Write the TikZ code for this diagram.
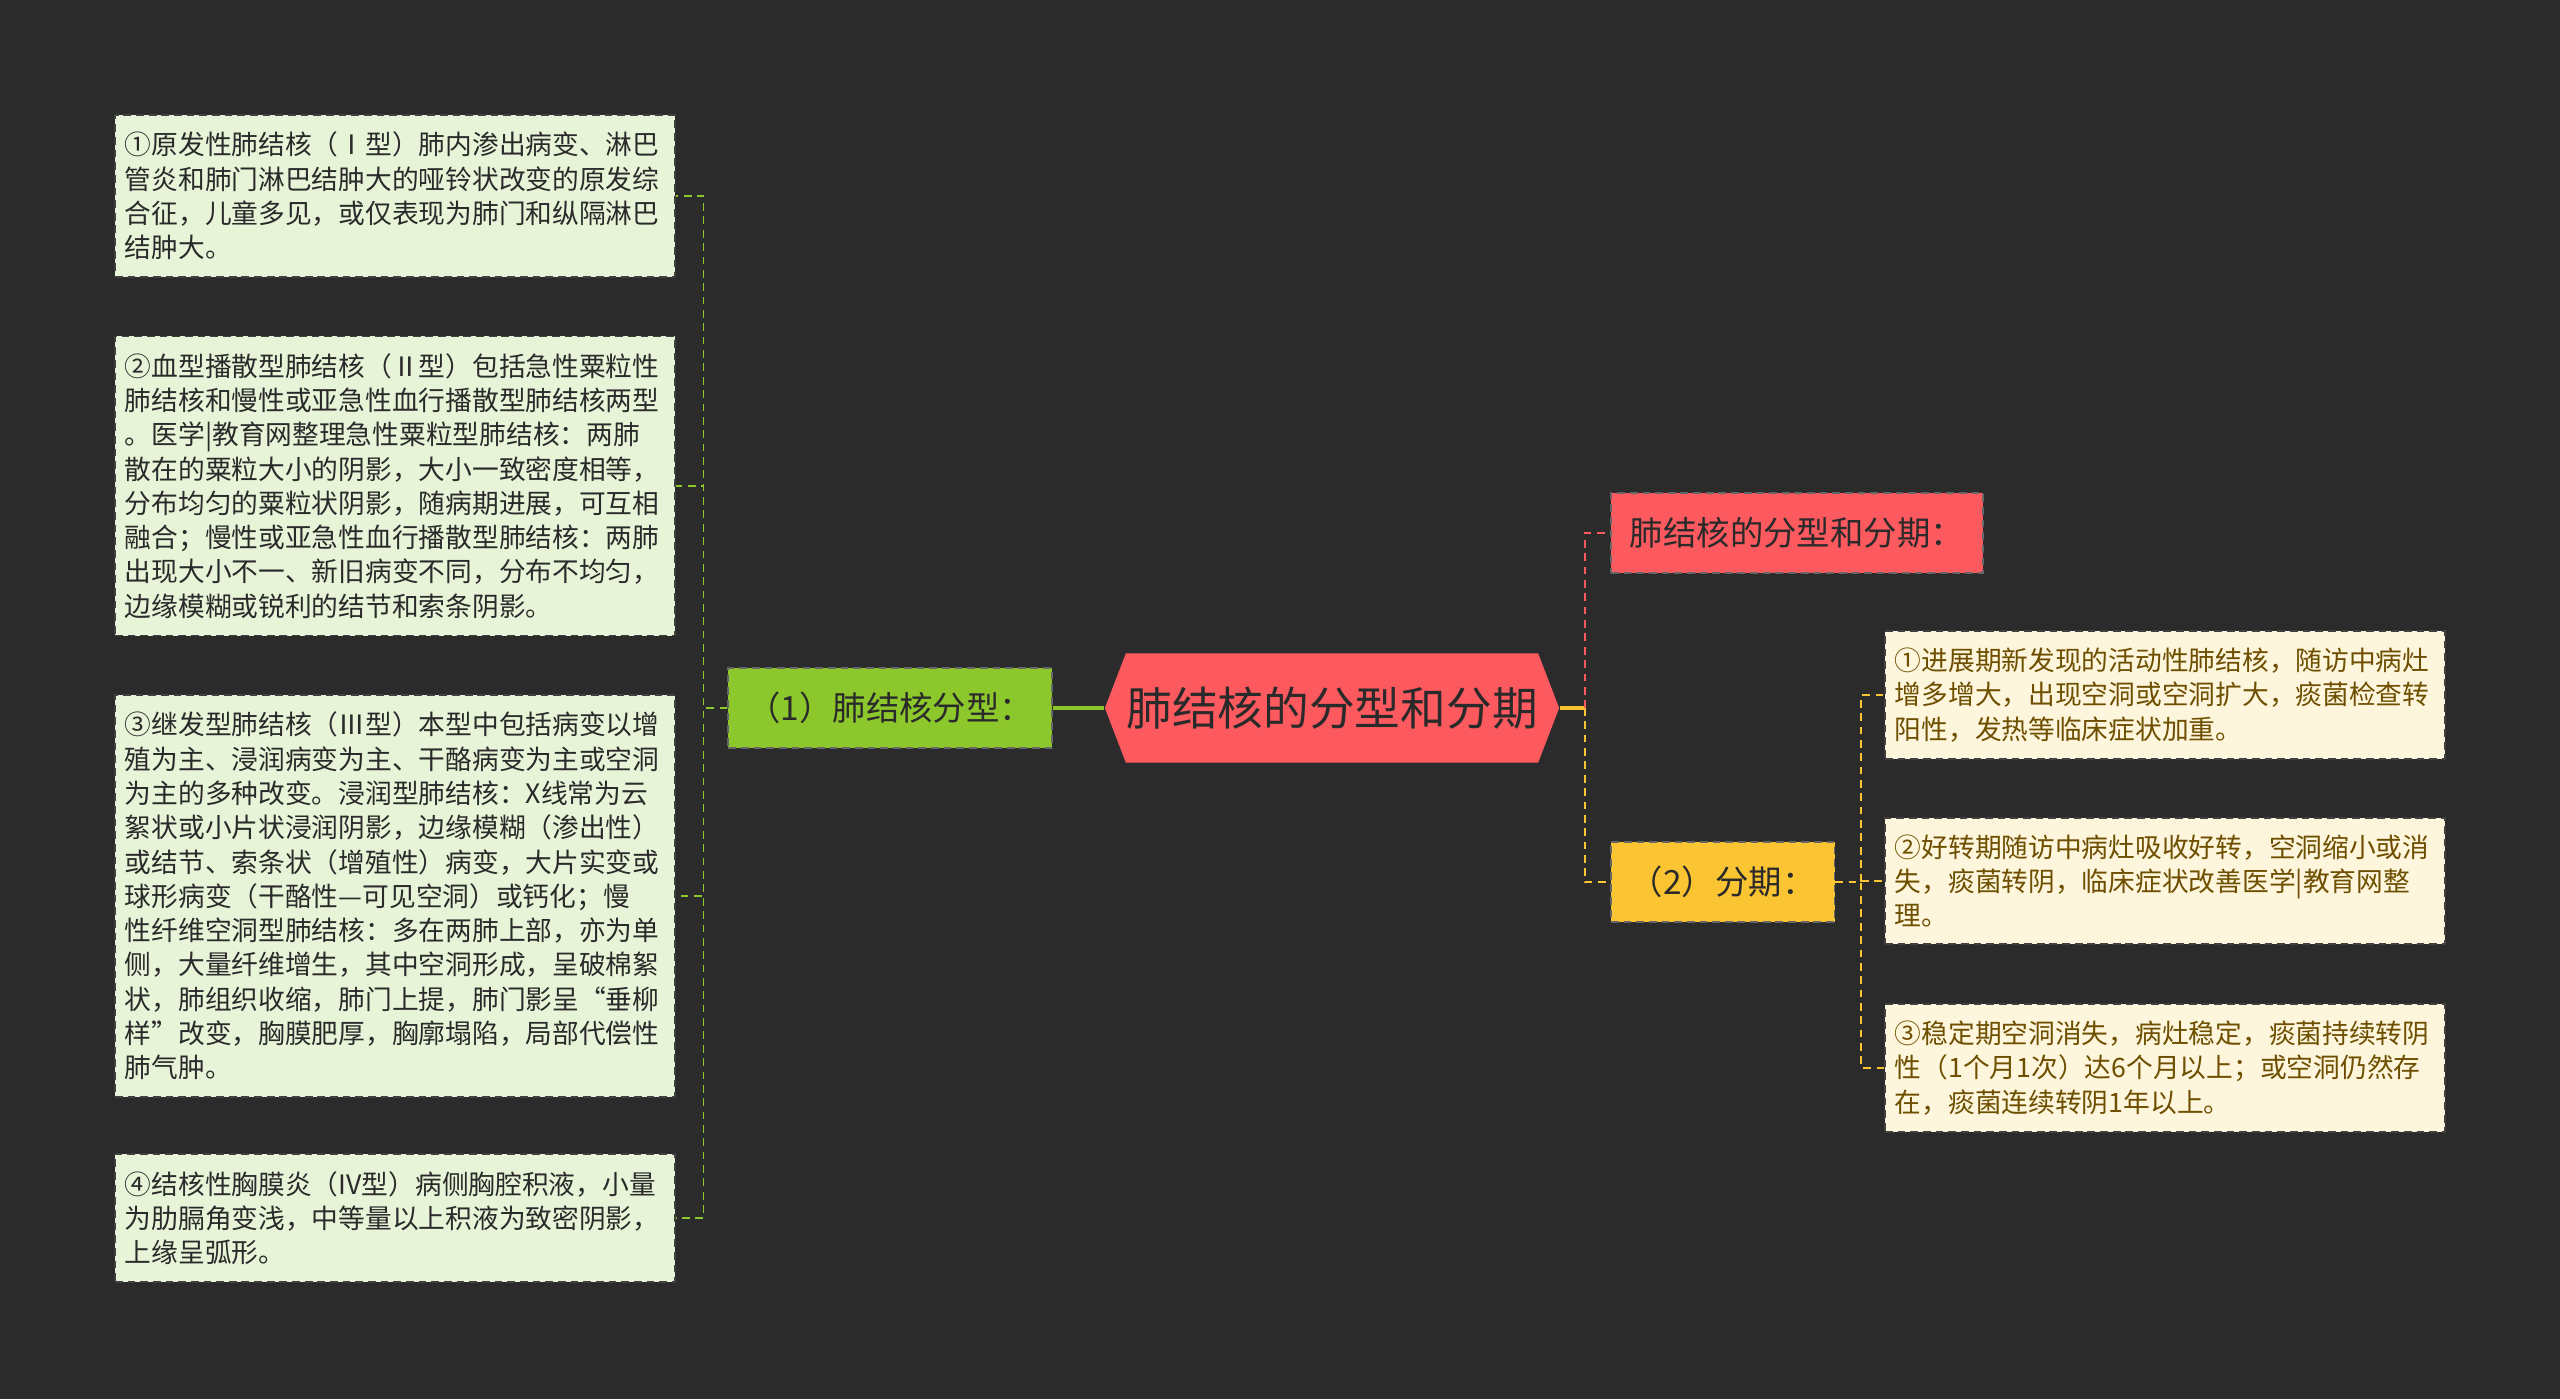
\documentclass[tikz,border=0pt]{standalone}
\usepackage{fontspec}
\setmainfont{Noto Sans CJK SC}
\usetikzlibrary{shapes.symbols}
\definecolor{bgDark}{HTML}{2B2B2B}
\definecolor{rootRed}{HTML}{FD5A5F}
\definecolor{typeGreen}{HTML}{8CC82C}
\definecolor{stageYellow}{HTML}{FBC433}
\definecolor{paleGreen}{HTML}{E8F4D8}
\definecolor{paleCream}{HTML}{FDF5DC}
\definecolor{darkText}{HTML}{2A2A2A}
\definecolor{brownText}{HTML}{6E4F00}
\tikzstyle{leafGreen}=[shape = rectangle, anchor = west, draw = black!75, dash pattern = on 2.2pt off 1.4pt, line width = 0.5pt, fill = paleGreen, text = darkText, align = left, text width = 5.4cm, inner xsep = 0.1cm, inner ysep = 4.8pt, font = \fontsize{7.6pt}{9.75pt}\selectfont]
\tikzstyle{leafCream}=[leafGreen, fill = paleCream, text = brownText]
\tikzstyle{branchBox}=[shape = rectangle, draw = black!60, dash pattern = on 2.2pt off 1.4pt, line width = 0.5pt, text = darkText, minimum height = 0.8cm, inner xsep = 0.19cm, font = \fontsize{9.5pt}{11pt}\selectfont]

\begin{document}
\begin{tikzpicture}[x = 0.01cm, y = -0.01cm]
\tikzstyle{rootStyle}=[shape = signal, signal to = west and east, signal pointer angle = 138, fill = rootRed, text = darkText, minimum width = 4.54cm, minimum height = 1.09cm, inner xsep = 0pt, font = \fontsize{13pt}{15pt}\selectfont]
\tikzstyle{linkGreen}=[typeGreen, line width = 0.9pt]
\tikzstyle{linkYellow}=[stageYellow, line width = 0.9pt]
\tikzstyle{dashGreen}=[typeGreen, line width = 0.4pt, dash pattern = on 2.2pt off 1.6pt]
\tikzstyle{dashRed}=[rootRed, line width = 0.6pt, dash pattern = on 2.2pt off 1.6pt]
\tikzstyle{dashYellow}=[stageYellow, line width = 0.6pt, dash pattern = on 2.2pt off 1.6pt]
\fill[bgDark] (0,0) rectangle (2560,1399);
\node[rootStyle] (c0) at (1332,708) {肺结核的分型和分期};
\node[branchBox, fill = typeGreen, anchor = east] (a0) at (1053,708) {（1）肺结核分型：};
\node[branchBox, fill = rootRed, anchor = west] (b0) at (1610,533) {肺结核的分型和分期：};
\node[branchBox, fill = stageYellow, anchor = west] (b1) at (1610,882) {（2）分期：};
\node[leafGreen] (a1) at (114,196) {①原发性肺结核（Ⅰ型）肺内渗出病变、淋巴\\管炎和肺门淋巴结肿大的哑铃状改变的原发综\\合征，儿童多见，或仅表现为肺门和纵隔淋巴\\结肿大。};
\node[leafGreen] (a2) at (114,486) {②血型播散型肺结核（Ⅱ型）包括急性粟粒性\\肺结核和慢性或亚急性血行播散型肺结核两型\\。医学|教育网整理急性粟粒型肺结核：两肺\\散在的粟粒大小的阴影，大小一致密度相等，\\分布均匀的粟粒状阴影，随病期进展，可互相\\融合；慢性或亚急性血行播散型肺结核：两肺\\出现大小不一、新旧病变不同，分布不均匀，\\边缘模糊或锐利的结节和索条阴影。};
\node[leafGreen] (a3) at (114,896) {③继发型肺结核（Ⅲ型）本型中包括病变以增\\殖为主、浸润病变为主、干酪病变为主或空洞\\为主的多种改变。浸润型肺结核：X线常为云\\絮状或小片状浸润阴影，边缘模糊（渗出性）\\或结节、索条状（增殖性）病变，大片实变或\\球形病变（干酪性—可见空洞）或钙化；慢\\性纤维空洞型肺结核：多在两肺上部，亦为单\\侧，大量纤维增生，其中空洞形成，呈破棉絮\\状，肺组织收缩，肺门上提，肺门影呈“垂柳\\样”改变，胸膜肥厚，胸廓塌陷，局部代偿性\\肺气肿。};
\node[leafGreen] (a4) at (114,1218) {④结核性胸膜炎（IV型）病侧胸腔积液，小量\\为肋膈角变浅，中等量以上积液为致密阴影，\\上缘呈弧形。};
\node[leafCream] (s1) at (1884,695) {①进展期新发现的活动性肺结核，随访中病灶\\增多增大，出现空洞或空洞扩大，痰菌检查转\\阳性，发热等临床症状加重。};
\node[leafCream] (s2) at (1884,881) {②好转期随访中病灶吸收好转，空洞缩小或消\\失，痰菌转阴，临床症状改善医学|教育网整\\理。};
\node[leafCream] (s3) at (1884,1068) {③稳定期空洞消失，病灶稳定，痰菌持续转阴\\性（1个月1次）达6个月以上；或空洞仍然存\\在，痰菌连续转阴1年以上。};
\draw[linkGreen] (c0.west) -- (a0.east);
\foreach \v in {a1,a2,a3,a4}
  \draw[dashGreen] (a0.west) -- ++(-24,0) |- (\v.east);
\draw[linkYellow] (c0.east) -- ++(25,0) coordinate (j0);
\draw[dashRed] (j0) |- (b0.west);
\draw[dashYellow] (j0) |- (b1.west);
\foreach \v in {s1,s2,s3}
  \draw[dashYellow] (b1.east) -- ++(26,0) |- (\v.west);
\end{tikzpicture}
\end{document}
